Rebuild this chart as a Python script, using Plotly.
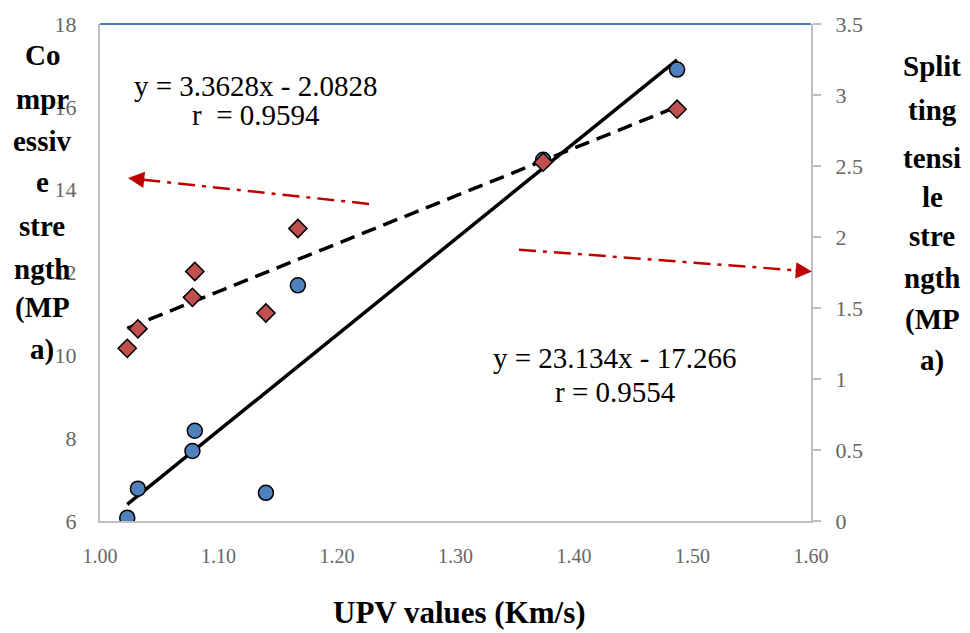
import plotly.graph_objects as go

# ---- data ----
upv = [1.023, 1.032, 1.078, 1.080, 1.140, 1.167, 1.374, 1.487]
compressive = [6.08, 6.78, 7.69, 8.18, 6.68, 11.69, 14.72, 16.90]
splitting = [1.216, 1.353, 1.575, 1.757, 1.465, 2.06, 2.527, 2.90]

comp_fit = [23.134, -17.266]   # slope, intercept
split_fit = [3.3628, -2.0828]
comp_label = ["y = 23.134x - 17.266", "r = 0.9554"]
split_label = ["y = 3.3628x - 2.0828", "r  = 0.9594"]

x_ticks = [1.0, 1.1, 1.2, 1.3, 1.4, 1.5, 1.6]
y_left_ticks = [6, 8, 10, 12, 14, 16, 18]
y_right_ticks = [0, 0.5, 1, 1.5, 2, 2.5, 3, 3.5]

left_title = ["Co", "mpr", "essiv", "e", "stre", "ngth", "(MP", "a)"]
right_title = ["Split", "ting", "tensi", "le", "stre", "ngth", "(MP", "a)"]
x_title = "UPV values (Km/s)"

# ---- layout geometry (pixels) ----
W, H = 970, 633
L, R, T, B = 100, 811, 21, 521

def px(xp):
    return (xp - L) / (R - L)

def py(yp):
    return (B - yp) / (B - T)

FONT = "Liberation Serif"
GRAY_TXT = "#666666"
AXIS_GRAY = "#BFBFBF"

fig = go.Figure()

xs = [min(upv), max(upv)]
fig.add_trace(go.Scatter(
    x=xs, y=[comp_fit[0] * v + comp_fit[1] for v in xs],
    mode="lines", line=dict(color="black", width=3.5), showlegend=False,
    hoverinfo="skip"))
fig.add_trace(go.Scatter(
    x=xs, y=[split_fit[0] * v + split_fit[1] for v in xs], yaxis="y2",
    mode="lines", line=dict(color="black", width=3.5, dash="15px,8px"),
    showlegend=False, hoverinfo="skip"))
fig.add_trace(go.Scatter(
    x=upv, y=compressive, mode="markers",
    marker=dict(symbol="circle", size=15, color="#4F81BD",
                line=dict(color="black", width=1.5)),
    showlegend=False))
fig.add_trace(go.Scatter(
    x=upv, y=splitting, yaxis="y2", mode="markers",
    marker=dict(symbol="diamond", size=14, color="#C0504D",
                line=dict(color="black", width=1.5)),
    showlegend=False))

# top border line (blue)
fig.add_shape(type="line", xref="paper", yref="paper", x0=0, x1=1, y0=1, y1=1,
              line=dict(color="#4A7EBB", width=2))

annotations = []
# equation labels
for i, t in enumerate(split_label):
    annotations.append(dict(text=t, xref="paper", yref="paper",
                            x=px(256), y=py([83, 113][i]), showarrow=False,
                            xanchor="center", yanchor="middle",
                            font=dict(family=FONT, size=29, color="black")))
for i, t in enumerate(comp_label):
    annotations.append(dict(text=t, xref="paper", yref="paper",
                            x=px(615), y=py([357, 391][i]), showarrow=False,
                            xanchor="center", yanchor="middle",
                            font=dict(family=FONT, size=29, color="black")))

# axis titles
left_y = [52, 96, 139, 180, 224, 267, 306, 348]
for t, yy in zip(left_title, left_y):
    annotations.append(dict(text="<b>%s</b>" % t, xref="paper", yref="paper",
                            x=px(42), y=py(yy), showarrow=False,
                            xanchor="center", yanchor="middle",
                            font=dict(family=FONT, size=29, color="black")))
right_y = [63, 108, 156, 195, 234, 277, 318, 360]
for t, yy in zip(right_title, right_y):
    annotations.append(dict(text="<b>%s</b>" % t, xref="paper", yref="paper",
                            x=px(932), y=py(yy), showarrow=False,
                            xanchor="center", yanchor="middle",
                            font=dict(family=FONT, size=29, color="black")))
annotations.append(dict(text="<b>%s</b>" % x_title, xref="paper", yref="paper",
                        x=px(459), y=py(613), showarrow=False,
                        xanchor="center", yanchor="middle",
                        font=dict(family=FONT, size=31, color="black")))

# red dash-dot arrows
RED = "#C00000"
arrows = [((369, 202), (128, 176)), ((519, 248), (812, 270))]
for (tx, ty), (hx, hy) in arrows:
    dx, dy = hx - tx, hy - ty
    n = (dx * dx + dy * dy) ** 0.5
    ux, uy = dx / n, dy / n
    ex, ey = hx - ux * 14, hy - uy * 14
    fig.add_shape(type="line", xref="paper", yref="paper",
                  x0=px(tx), y0=py(ty), x1=px(ex), y1=py(ey),
                  line=dict(color=RED, width=2.5, dash="17px,7px,4px,7px"))
    annotations.append(dict(text="", xref="paper", yref="paper",
                            x=px(hx), y=py(hy), ax=-ux * 18, ay=-uy * 18,
                            axref="pixel", ayref="pixel",
                            showarrow=True, arrowhead=2, arrowsize=1.3,
                            arrowwidth=2.5, arrowcolor=RED, standoff=0))

fig.update_layout(
    width=W, height=H,
    margin=dict(l=L, r=W - R, t=T, b=H - B, pad=0),
    paper_bgcolor="white", plot_bgcolor="white",
    font=dict(family=FONT, color=GRAY_TXT),
    annotations=annotations,
    xaxis=dict(range=[1.0, 1.6], tickvals=x_ticks,
               ticktext=["%.2f" % v for v in x_ticks],
               showgrid=False, zeroline=False,
               showline=True, linecolor=AXIS_GRAY, linewidth=2,
               ticks="outside", ticklen=16, tickcolor="rgba(0,0,0,0)",
               tickfont=dict(family=FONT, size=20, color=GRAY_TXT)),
    yaxis=dict(range=[6, 18], tickvals=y_left_ticks,
               showgrid=False, zeroline=False,
               showline=True, linecolor=AXIS_GRAY, linewidth=2,
               ticks="outside", ticklen=17, tickcolor="rgba(0,0,0,0)",
               tickfont=dict(family=FONT, size=22, color=GRAY_TXT)),
    yaxis2=dict(range=[0, 3.5], tickvals=y_right_ticks,
                ticktext=[("%g" % v) for v in y_right_ticks],
                overlaying="y", side="right",
                showgrid=False, zeroline=False,
                showline=True, linecolor=AXIS_GRAY, linewidth=2,
                ticks="outside", ticklen=8, tickcolor=AXIS_GRAY, tickwidth=1.5,
                ticklabelstandoff=10,
                tickfont=dict(family=FONT, size=22, color=GRAY_TXT)),
)

fig.write_html("out.html")
